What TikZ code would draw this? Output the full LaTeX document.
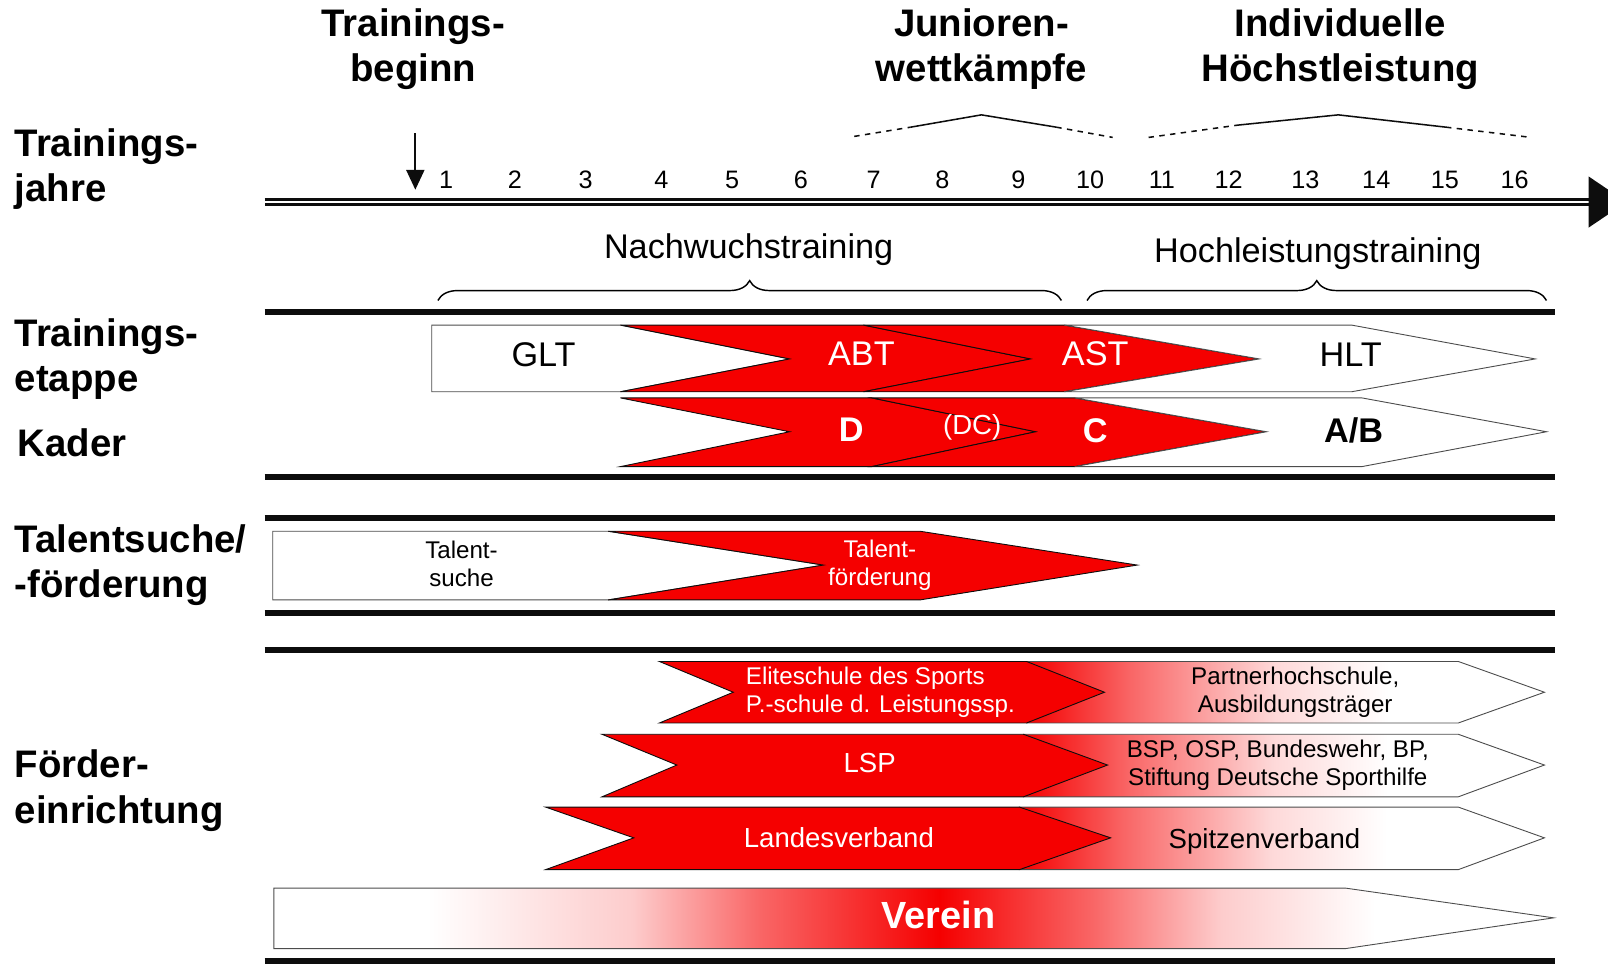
\documentclass[tikz,border=0pt]{standalone}
\usepackage{fontspec}
\setmainfont{Liberation Sans}
\usepackage{tikz}
\usetikzlibrary{arrows.meta, positioning, decorations.pathreplacing}
\definecolor{mainRed}{RGB}{245,0,0}
\definecolor{mainBlack}{gray}{0.05}
\definecolor{edgeGray}{gray}{0.3}
\pgfdeclarehorizontalshading{fadeRight}{100bp}{color(0bp)=(mainRed); color(25bp)=(mainRed); color(35bp)=(mainRed!60); color(49bp)=(mainRed!15); color(60bp)=(white); color(100bp)=(white)}
\pgfdeclarehorizontalshading{fadeBoth}{100bp}{color(0bp)=(white); color(31bp)=(white); color(39bp)=(mainRed!20); color(44bp)=(mainRed!60); color(51bp)=(mainRed); color(57bp)=(mainRed!60); color(62bp)=(mainRed!20); color(68bp)=(white); color(100bp)=(white)}

\begin{document}
\begin{tikzpicture}[x=0.02cm, y=-0.02cm, >=stealth,
    head/.style={font=\bfseries\fontsize{21.3}{25}\selectfont, inner sep=0pt, align=center},
    side/.style={head, align=left, anchor=west},
    year/.style={font=\fontsize{14}{16}\selectfont, inner sep=0pt},
    phase/.style={font=\fontsize{19}{22}\selectfont, inner sep=0pt},
    mid/.style={font=\fontsize{15.3}{18}\selectfont, inner sep=0pt},
    txt/.style={font=\fontsize{13.4}{15.5}\selectfont, inner sep=0pt, align=center},
    bar/.style={line width=3.4pt, mainBlack},
    redpart/.style={fill=mainRed, draw=mainBlack, line width=0.5pt},
    whitepart/.style={fill=white, draw=edgeGray, line width=0.5pt},
    fadepart/.style={shading=fadeRight, draw=edgeGray, line width=0.5pt},
    tent/.style={line width=0.85pt, mainBlack}]
    \useasboundingbox (0,0) rectangle (1568,940);

    % headings
    \node[head] (beginn) at (403,48) {Trainings-\\beginn};
    \node[head] (junior) at (957,48) {Junioren-\\wettkämpfe};
    \node[head] (hoechst) at (1307,48) {Individuelle\\Höchstleistung};

    \node[side] (jahre) at (14,165) {Trainings-\\jahre};
    \node[side] (etappe) at (14,350) {Trainings-\\etappe};
    \node[side] (kader) at (17,432) {Kader};
    \node[side] (talent) at (14,551) {Talentsuche/\\-förderung};
    \node[side] (foerder) at (14,771) {Förder-\\einrichtung};

    % time axis
    \coordinate (axisStart) at (258,197);
    \coordinate (axisEnd) at (1549,197);
    \draw[line width=1.7pt, double=white, double distance=1.5pt, mainBlack] (axisStart) -- (axisEnd);
    \fill[mainBlack] (1549,172) -- (1586,197) -- (1549,222) -- cycle;

    \coordinate (startTop) at (405,130);
    \coordinate (startTip) at (405,185);
    \draw[-{Triangle[length=11pt,width=10pt]}, line width=1.1pt, mainBlack] (startTop) -- (startTip);

    \foreach \n/\x in {1/435, 2/502, 3/571, 4/645, 5/714, 6/781, 7/852, 8/919,
                       9/993, 10/1063, 11/1133, 12/1198, 13/1273, 14/1342, 15/1409, 16/1477}
        \node[year] (yr\n) at (\x,175) {\n};

    % peaks
    \draw[tent, dashed] (833,133) -- (888,124);
    \draw[tent] (888,124) -- (957,112) -- (1030,124);
    \draw[tent, dashed] (1030,124) -- (1085,134);
    \draw[tent, dashed] (1120,134) -- (1207,122);
    \draw[tent] (1207,122) -- (1305,112) -- (1410,124);
    \draw[tent, dashed] (1410,124) -- (1493,134);

    % braces
    \node[phase] (nachwuchs) at (730,243) {Nachwuchstraining};
    \node[phase] (hochleist) at (1285,247) {Hochleistungstraining};
    \coordinate (nwL) at (427,293);
    \coordinate (nwR) at (1035,293);
    \coordinate (hlL) at (1060,293);
    \coordinate (hlR) at (1508,293);
    \draw[decorate, decoration={brace, amplitude=11pt}, line width=0.8pt] (nwL) -- (nwR);
    \draw[decorate, decoration={brace, amplitude=11pt}, line width=0.8pt] (hlL) -- (hlR);

    \foreach \y in {304,465,505,598,634,937}
        \draw[bar] (258,\y) -- (1516,\y);

    % Trainingsetappe
    \draw[whitepart] (421,317) -- (605,317) -- (770,350) -- (605,382) -- (421,382) -- cycle;
    \draw[redpart] (605,317) -- (842,317) -- (1005,350) -- (842,382) -- (605,382) -- (770,350) -- cycle;
    \draw[redpart] (842,317) -- (1038,317) -- (1228,350) -- (1038,382) -- (842,382) -- (1005,350) -- cycle;
    \draw[whitepart] (1038,317) -- (1318,317) -- (1497,350) -- (1318,382) -- (1038,382) -- (1228,350) -- cycle;
    \node[phase] (glt) at (530,346) {GLT};
    \node[phase, text=white] (abt) at (840,345) {ABT};
    \node[phase, text=white] (ast) at (1068,345) {AST};
    \node[phase] (hlt) at (1317,346) {HLT};

    % Kader
    \draw[redpart] (605,388) -- (850,388) -- (1010,421) -- (850,455) -- (605,455) -- (770,421) -- cycle;
    \draw[redpart] (850,388) -- (1048,388) -- (1235,421) -- (1048,455) -- (850,455) -- (1010,421) -- cycle;
    \draw[whitepart] (1048,388) -- (1328,388) -- (1508,421) -- (1328,455) -- (1048,455) -- (1235,421) -- cycle;
    \node[phase, font=\bfseries\fontsize{19}{22}\selectfont, text=white] (kD) at (830,419) {D};
    \node[mid, text=white] (kDC) at (948,417) {(DC)};
    \node[phase, font=\bfseries\fontsize{19}{22}\selectfont, text=white] (kC) at (1068,420) {C};
    \node[phase, font=\bfseries\fontsize{19}{22}\selectfont] (kAB) at (1320,420) {A/B};

    % Talentsuche / -foerderung
    \draw[whitepart] (266,518) -- (593,518) -- (803,551) -- (593,585) -- (266,585) -- cycle;
    \draw[redpart] (593,518) -- (897,518) -- (1109,551) -- (897,585) -- (593,585) -- (803,551) -- cycle;
    \node[txt] (tsuche) at (450,550) {Talent-\\suche};
    \node[txt, text=white] (tfoerd) at (858,551) {Talent-\\förderung};

    % Foerdereinrichtung
    \draw[fadepart] (1001,645) -- (1422,645) -- (1506,675) -- (1422,705) -- (1001,705) -- cycle;
    \draw[redpart] (643,645) -- (1001,645) -- (1077,675) -- (1001,705) -- (643,705) -- (715,675) -- cycle;
    \node[txt, text=white, align=left, anchor=west] (elite) at (727,675) {Eliteschule des Sports\\P.-schule d. Leistungssp.};
    \node[txt] (partner) at (1263,675) {Partnerhochschule,\\Ausbildungsträger};

    \draw[fadepart] (998,716) -- (1422,716) -- (1506,746) -- (1422,777) -- (998,777) -- cycle;
    \draw[redpart] (587,716) -- (998,716) -- (1080,746) -- (998,777) -- (587,777) -- (660,746) -- cycle;
    \node[mid, text=white] (lsp) at (848,744) {LSP};
    \node[txt] (bsp) at (1246,746) {BSP, OSP, Bundeswehr, BP,\\Stiftung Deutsche Sporthilfe};

    \draw[fadepart] (994,787) -- (1422,787) -- (1506,817) -- (1422,848) -- (994,848) -- cycle;
    \draw[redpart] (532,787) -- (994,787) -- (1083,817) -- (994,848) -- (532,848) -- (618,817) -- cycle;
    \node[mid, text=white] (landes) at (818,817) {Landesverband};
    \node[mid] (spitzen) at (1233,820) {Spitzenverband};

    \draw[shading=fadeBoth, draw=edgeGray, line width=0.5pt] (267,866) -- (1312,866) -- (1515,895) -- (1312,925) -- (267,925) -- cycle;
    \node[head, font=\bfseries\fontsize{21}{25}\selectfont, text=white] (verein) at (915,892) {Verein};
\end{tikzpicture}
\end{document}
